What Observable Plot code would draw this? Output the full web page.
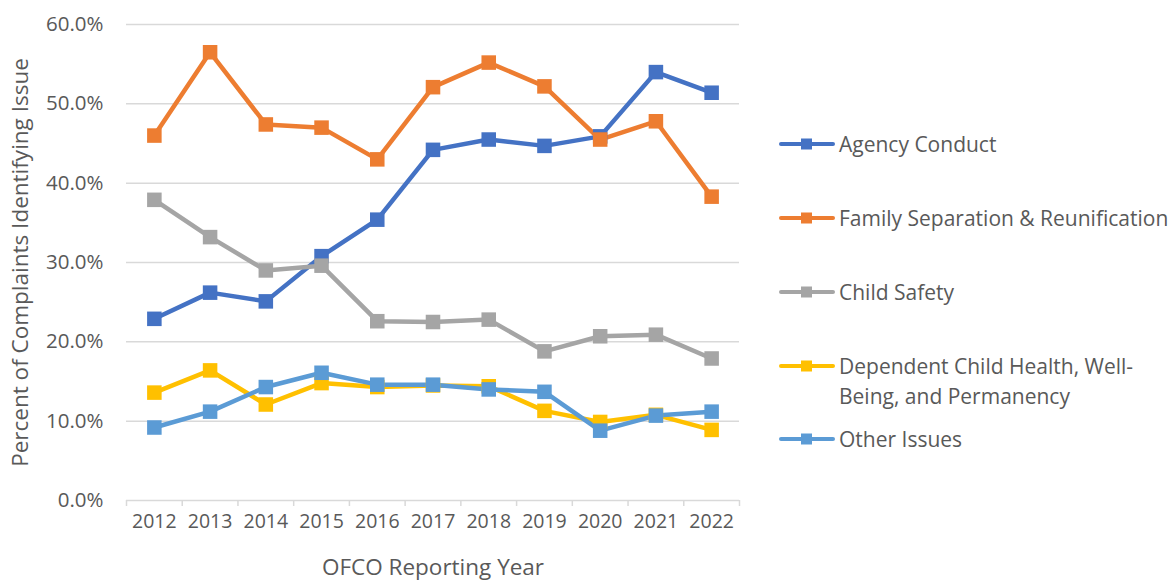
<!DOCTYPE html>
<html>
<head>
<meta charset="utf-8">
<script src="https://cdn.jsdelivr.net/npm/d3@7"></script>
<script src="https://cdn.jsdelivr.net/npm/@observablehq/plot@0.6"></script>
<style>
  html, body { margin: 0; padding: 0; background: #fff; }
  body { width: 1170px; height: 582px; overflow: hidden; font-family: "Open Sans", sans-serif; }
  #wrap { position: relative; width: 1170px; height: 582px; }
  #chart { position: absolute; left: 0; top: 0; }
  #legend { position: absolute; left: 778px; top: 0; width: 392px; }
  .item { position: absolute; left: 0; display: flex; align-items: flex-start; color: #595959; font-size: 21px; line-height: 30px; white-space: nowrap; }
  .item svg { flex: none; margin-top: 8px; }
  .item span { margin-left: 3px; }
</style>
</head>
<body>
<div id="wrap"><div id="chart"></div><div id="legend"></div></div>
<script>
const years = [2012, 2013, 2014, 2015, 2016, 2017, 2018, 2019, 2020, 2021, 2022];
const seriesNames = [
  "Agency Conduct",
  "Family Separation & Reunification",
  "Child Safety",
  "Dependent Child Health, Well-Being, and Permanency",
  "Other Issues"
];
const legendLabels = [
  "Agency Conduct",
  "Family Separation & Reunification",
  "Child Safety",
  "Dependent Child Health, Well-<br>Being, and Permanency",
  "Other Issues"
];
const colors = ["#4472C4", "#ED7D31", "#A5A5A5", "#FFC000", "#5B9BD5"];
const agencyConduct = [22.9, 26.2, 25.1, 30.8, 35.4, 44.2, 45.5, 44.7, 45.9, 54.0, 51.4];
const familySeparation = [46.0, 56.5, 47.4, 47.0, 43.0, 52.1, 55.2, 52.2, 45.5, 47.8, 38.3];
const childSafety = [37.9, 33.2, 29.0, 29.6, 22.6, 22.5, 22.8, 18.8, 20.7, 20.9, 17.9];
const dependentChild = [13.6, 16.4, 12.1, 14.8, 14.3, 14.5, 14.4, 11.3, 9.9, 10.8, 8.9];
const otherIssues = [9.2, 11.2, 14.3, 16.1, 14.6, 14.6, 14.0, 13.7, 8.8, 10.7, 11.2];
const yTicks = [0, 10, 20, 30, 40, 50, 60];
const xLabel = "OFCO Reporting Year";
const yLabel = "Percent of Complaints Identifying Issue";

const allValues = [agencyConduct, familySeparation, childSafety, dependentChild, otherIssues];
const data = [];
allValues.forEach((vals, i) => {
  vals.forEach((v, j) => data.push({ series: seriesNames[i], year: years[j], value: v }));
});
const boundaries = years.map(y => y - 0.5).concat([years[years.length - 1] + 0.5]);

const plot = Plot.plot({
  width: 750,
  height: 582,
  marginTop: 24,
  marginBottom: 82,
  marginLeft: 126,
  marginRight: 11,
  style: { fontFamily: "Open Sans, sans-serif", fontSize: "20px", color: "#595959", background: "white" },
  x: { type: "linear", domain: [years[0] - 0.5, years[years.length - 1] + 0.5] },
  y: { domain: [0, 60] },
  color: { domain: seriesNames, range: colors },
  marks: [
    Plot.ruleY(yTicks, { stroke: "#d9d9d9", strokeWidth: 1.5 }),
    Plot.axisY({ ticks: yTicks, tickSize: 0, tickPadding: 23, tickFormat: d => d.toFixed(1) + "%", label: null, fill: "#595959", fontSize: 20.5 }),
    Plot.axisX({ ticks: boundaries, tickSize: 6, stroke: "#d9d9d9", strokeWidth: 1.5, tickFormat: () => "", label: null }),
    Plot.axisX({ ticks: years, tickSize: 0, tickPadding: 14, tickFormat: d => String(d), label: null, fill: "#595959", fontSize: 19.5 }),
    Plot.text([xLabel], { frameAnchor: "bottom", dy: 74, fill: "#595959", fontSize: 22.5 }),
    Plot.text([yLabel], { frameAnchor: "left", dx: -106, rotate: -90, textAnchor: "middle", fill: "#595959", fontSize: 22.5 }),
    Plot.line(data, { x: "year", y: "value", z: "series", stroke: "series", strokeWidth: 4.5, strokeLinejoin: "round", strokeLinecap: "round" }),
    Plot.dot(data, { x: "year", y: "value", fill: "series", symbol: "square", r: 8.2, stroke: null })
  ]
});
document.getElementById("chart").appendChild(plot);

const legendTops = [129, 203, 277, 351, 424];
const legend = document.getElementById("legend");
seriesNames.forEach((s, i) => {
  const item = document.createElement("div");
  item.className = "item";
  item.style.top = legendTops[i] + "px";
  item.innerHTML = `<svg width="58" height="14"><line x1="3" x2="55" y1="7" y2="7" stroke="${colors[i]}" stroke-width="4" stroke-linecap="round"/><rect x="23" y="1.5" width="11" height="11" fill="${colors[i]}"/></svg><span>${legendLabels[i]}</span>`;
  legend.appendChild(item);
});
</script>
</body>
</html>
